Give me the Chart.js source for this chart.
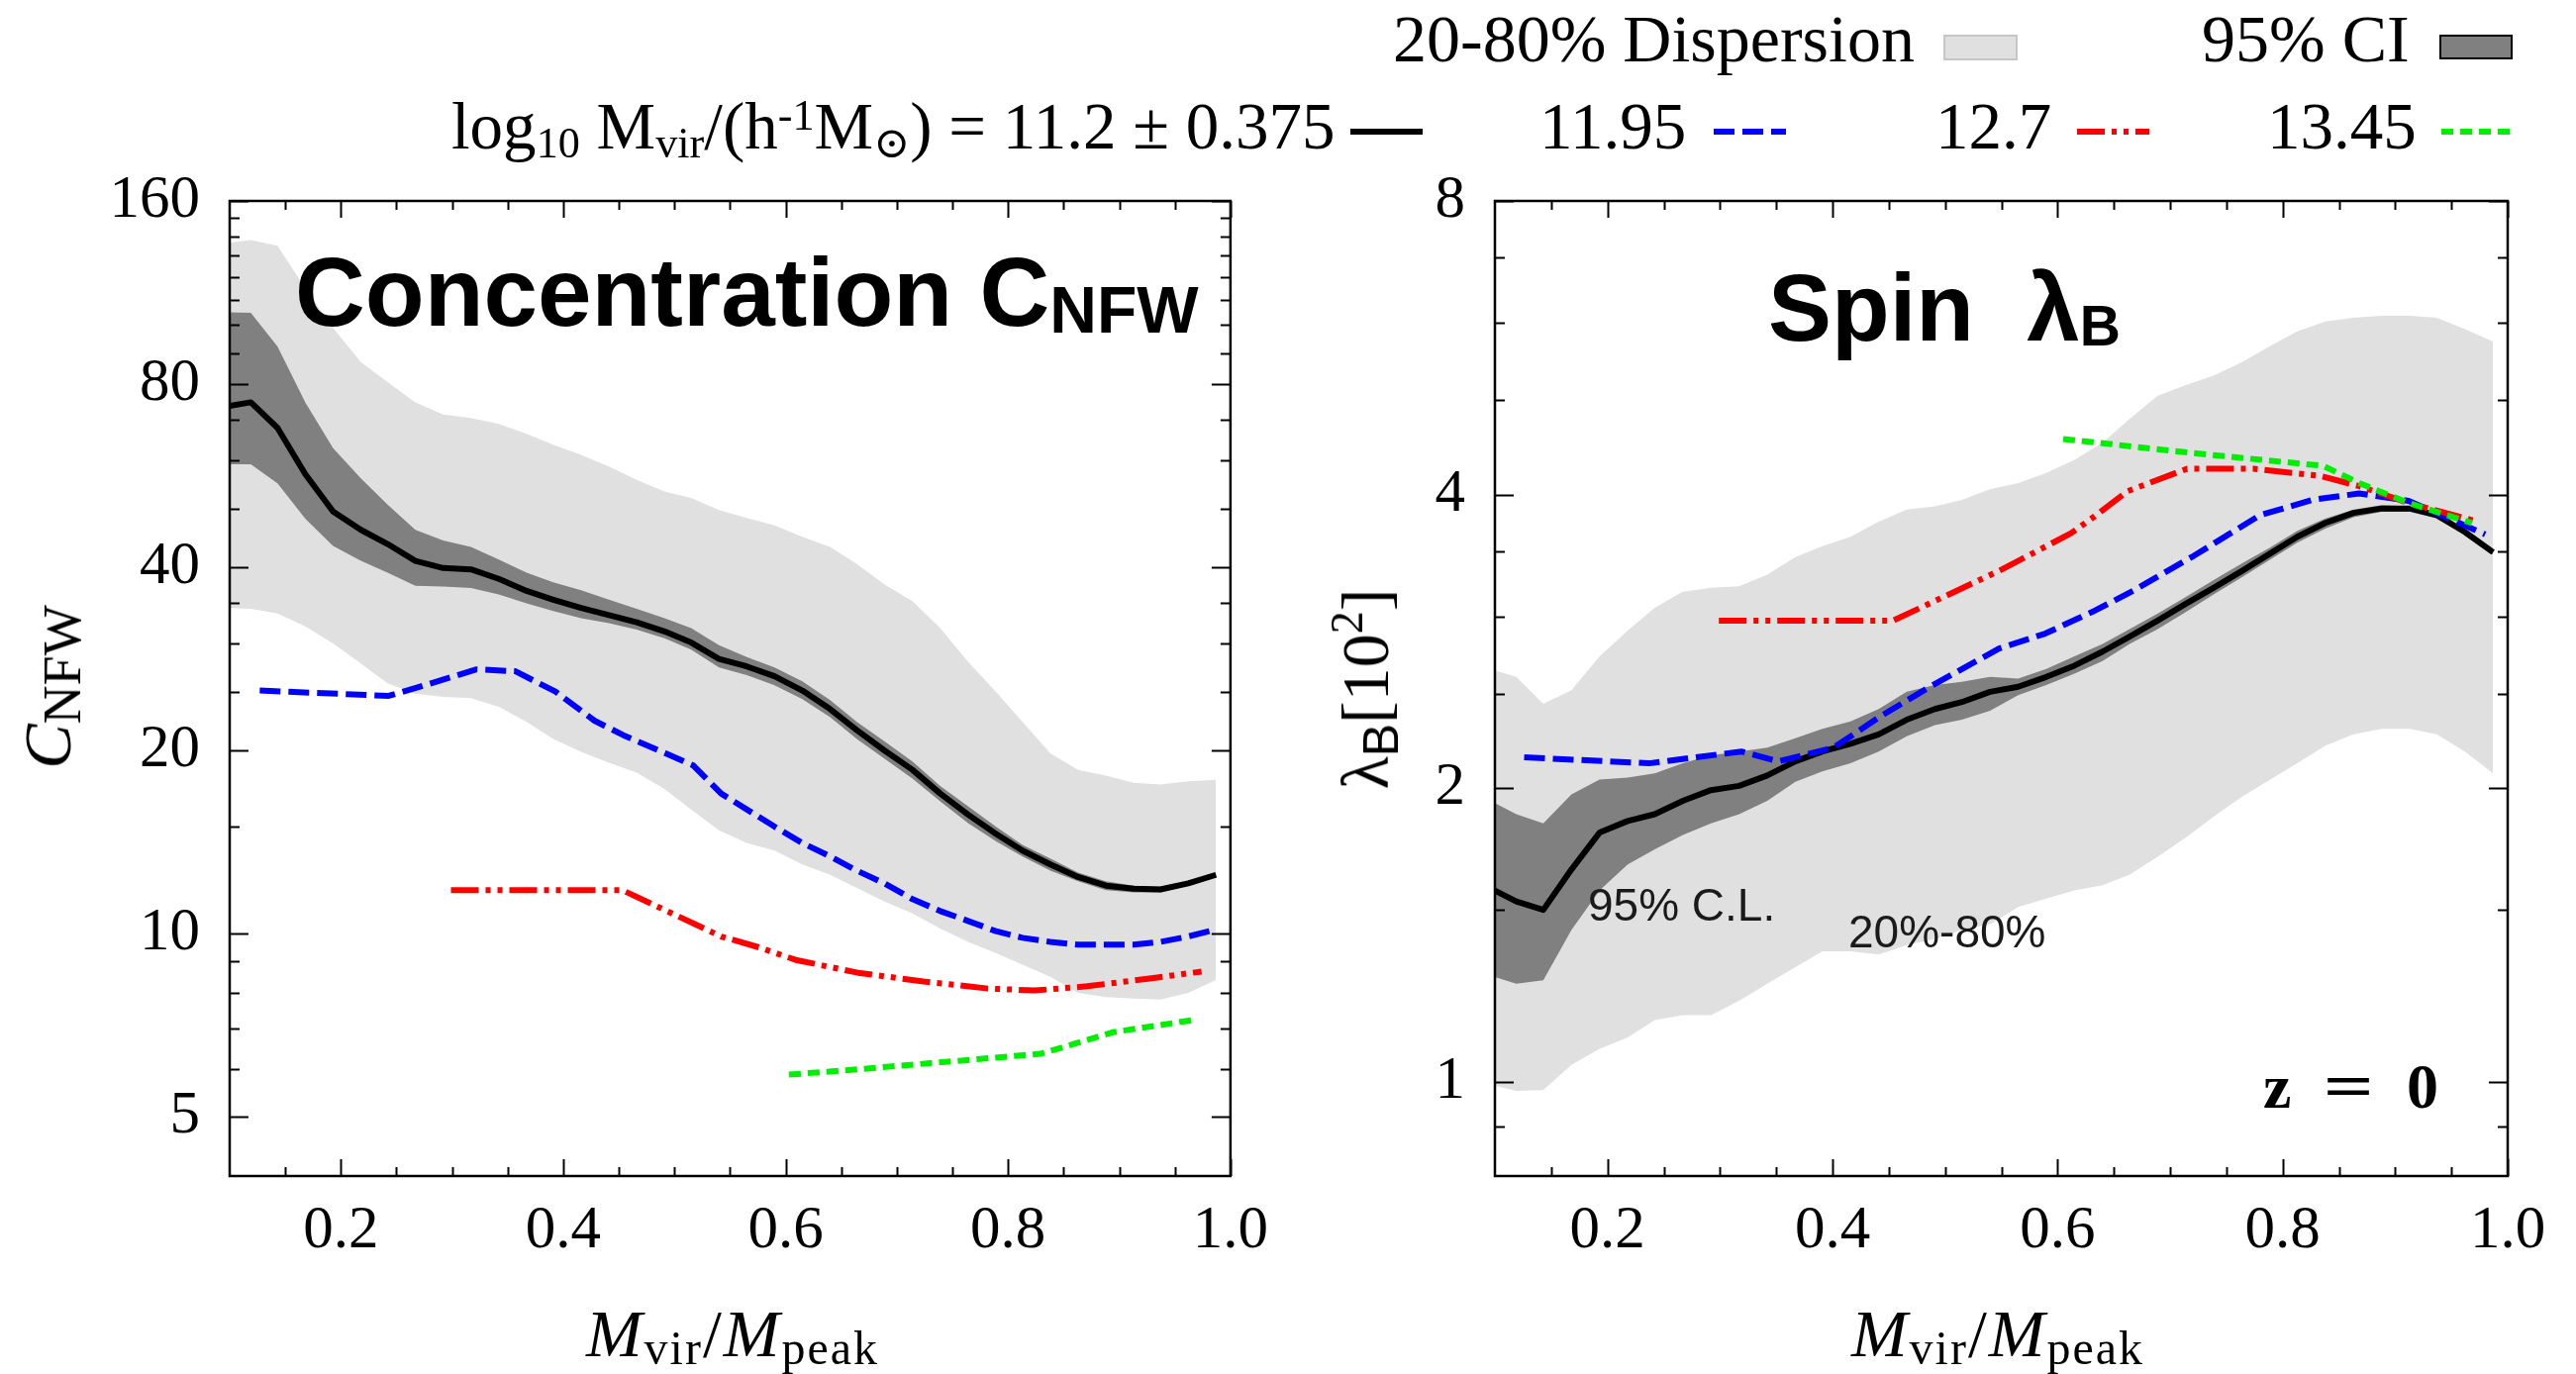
<!DOCTYPE html>
<html>
<head>
<meta charset="utf-8">
<title>Concentration and spin vs Mvir/Mpeak</title>
<script src="https://cdn.jsdelivr.net/npm/chart.js@4.4.1/dist/chart.umd.min.js"></script>
<style>
html, body { margin: 0; padding: 0; background: #fff; }
#wrap { position: relative; width: 2602px; height: 1388px; overflow: hidden; background: #fff; }
canvas { position: absolute; top: 0; }
.t { position: absolute; white-space: nowrap; line-height: 1; color: #000; }
.serif { font-family: "Liberation Serif", "DejaVu Serif", serif; }
.sans { font-family: "Liberation Sans", Arial, sans-serif; }
.sb { font-size: 0.66em; position: relative; top: 0.2em; }
.sp { font-size: 0.66em; position: relative; top: -0.42em; }
.rot { transform: translate(-50%, -50%) rotate(-90deg); }
</style>
</head>
<body>
<div id="wrap">
  <canvas id="concChart" width="1300" height="1388" style="left:0"></canvas>
  <canvas id="spinChart" width="1302" height="1388" style="left:1300px"></canvas>

  <!-- legend, row 1 -->
  <div class="t serif" style="left:1407px;top:5px;font-size:68px">20-80% Dispersion</div>
  <div style="position:absolute;left:1963px;top:35px;width:71px;height:22px;background:#e0e0e0;border:2px solid #c6c6c6"></div>
  <div class="t serif" style="left:2224px;top:5px;font-size:68px">95% CI</div>
  <div style="position:absolute;left:2464px;top:35px;width:70px;height:21px;background:#808080;border:2px solid #000"></div>

  <!-- legend, row 2 -->
  <div class="t serif" style="left:456px;top:94px;font-size:67px">log<span class="sb">10</span> M<span class="sb">vir</span>/(h<span class="sp">-1</span>M<span class="sb">⊙</span>) = 11.2 ± 0.375</div>
  <div class="t serif" style="left:1555px;top:94px;font-size:67px">11.95</div>
  <div class="t serif" style="left:1955px;top:94px;font-size:67px">12.7</div>
  <div class="t serif" style="left:2290px;top:94px;font-size:67px">13.45</div>
  <svg style="position:absolute;left:0;top:0" width="2602" height="200">
    <line x1="1364" y1="133" x2="1437" y2="133" stroke="#000" stroke-width="6"/>
    <line x1="1731" y1="133" x2="1804" y2="133" stroke="#0000ff" stroke-width="6" stroke-dasharray="21 8"/>
    <line x1="2098" y1="133" x2="2171" y2="133" stroke="#ff0000" stroke-width="6" stroke-dasharray="28 7 5 7 5 7"/>
    <line x1="2466" y1="133" x2="2539" y2="133" stroke="#00ee00" stroke-width="6" stroke-dasharray="12 7"/>
  </svg>

  <!-- panel titles -->
  <div class="t sans" style="left:298px;top:246px;font-size:98px;font-weight:bold">Concentration C<span style="font-size:66px;position:relative;top:7px">NFW</span></div>
  <div class="t sans" style="left:1786px;top:263px;font-size:96px;font-weight:bold">Spin&nbsp;&nbsp;λ<span style="font-size:57px;position:relative;top:5px">B</span></div>

  <!-- annotations -->
  <div class="t sans" style="left:1604px;top:891px;font-size:46px;color:#1a1a1a">95% C.L.</div>
  <div class="t sans" style="left:1867px;top:918px;font-size:46px;color:#1a1a1a">20%-80%</div>
  <div class="t serif" style="left:2286px;top:1066px;font-size:64px;font-weight:bold;word-spacing:24px">z <span style="display:inline-block;transform:scaleX(1.4)">=</span> 0</div>

  <!-- axis titles -->
  <div class="t serif" style="left:440px;width:600px;text-align:center;top:1313px;font-size:68px;letter-spacing:2px"><i>M</i><span style="font-size:48px;position:relative;top:8px">vir</span>/<i>M</i><span style="font-size:48px;position:relative;top:8px">peak</span></div>
  <div class="t serif" style="left:1718px;width:600px;text-align:center;top:1313px;font-size:68px;letter-spacing:2px"><i>M</i><span style="font-size:48px;position:relative;top:8px">vir</span>/<i>M</i><span style="font-size:48px;position:relative;top:8px">peak</span></div>
  <div class="t serif rot" style="left:48px;top:694px;font-size:68px"><i>C</i><span style="font-size:54px;position:relative;top:10px">NFW</span></div>
  <div class="t serif rot" style="left:1379px;top:696px;font-size:68px">λ<span class="sans" style="font-size:50px;position:relative;top:10px">B</span>[10<span style="font-size:46px;position:relative;top:-26px">2</span>]</div>
</div>

<script>
// x positions of the binned curves (Mvir/Mpeak)
const xBins = [0.100, 0.119, 0.143, 0.168, 0.193, 0.218, 0.242, 0.267, 0.292, 0.317,
               0.342, 0.367, 0.391, 0.416, 0.441, 0.466, 0.491, 0.515, 0.540, 0.565,
               0.590, 0.615, 0.640, 0.664, 0.689, 0.714, 0.739, 0.764, 0.789, 0.813,
               0.838, 0.863, 0.888, 0.913, 0.937, 0.962, 0.987];

// concentration, lowest mass bin (11.2)
const concHi80 = [136.6, 138, 135, 115, 99, 87, 80.6, 74.7, 71.3, 70.4, 68.8, 66.3, 63.6, 61.2, 58.6, 55.7, 53.3, 52.0, 49.7,
                  48.2, 46.9, 44.9, 43.2, 40.5, 37.5, 35.2, 31.8, 28.0, 25.0, 22.3, 19.8, 18.6, 18.2, 17.7, 17.6, 17.8, 17.9];
const concLo20 = [34.3, 34.2, 33.6, 32.0, 30.0, 27.8, 25.8, 24.8, 24.5, 24.4, 23.6, 22.3, 20.9, 19.9, 19.1, 18.4, 17.3, 16.0, 14.8,
                  14.1, 13.7, 13.0, 12.5, 11.9, 11.3, 10.8, 10.2, 9.7, 9.3, 8.9, 8.5, 8.0, 7.87, 7.83, 7.8, 8.0, 8.4];
const concHi95 = [105, 104.8, 92.3, 74.7, 62.8, 56.0, 50.7, 46.1, 44.3, 43.2, 41.2, 39.2, 37.8, 36.7, 35.4, 34.2, 33.0, 31.8, 29.8,
                  28.5, 27.4, 26.0, 24.2, 22.3, 20.7, 19.2, 17.5, 16.2, 15.0, 14.0, 13.3, 12.6, 12.2, 12.0, 11.95, 12.2, 12.6];
const concLo95 = [59.1, 59.1, 55.0, 48.1, 43.4, 41.0, 39.2, 37.3, 37.2, 37.0, 36.1, 34.9, 33.9, 33.0, 32.4, 31.6, 30.6, 29.3, 27.4,
                  26.6, 25.6, 24.3, 22.7, 20.9, 19.4, 18.0, 16.5, 15.2, 14.2, 13.4, 12.7, 12.2, 11.8, 11.7, 11.7, 12.0, 12.4];
const concMedian = [73.7, 74.7, 67.8, 56.9, 49.4, 46.1, 43.7, 41.0, 39.9, 39.7, 38.3, 36.6, 35.4, 34.3, 33.4, 32.5, 31.4, 30.1, 28.3,
                    27.5, 26.5, 25.1, 23.4, 21.6, 20.0, 18.6, 17.0, 15.7, 14.6, 13.7, 13.0, 12.4, 12.0, 11.86, 11.83, 12.1, 12.5];

// concentration, higher mass bins [x, y]
const concBlue = [[0.127, 25.1], [0.243, 24.6], [0.269, 25.4], [0.322, 27.2], [0.357, 27.0], [0.393, 25.0], [0.428, 22.4],
                  [0.454, 21.2], [0.492, 19.8], [0.517, 18.9], [0.542, 17.0], [0.590, 15.0], [0.615, 14.1], [0.640, 13.4],
                  [0.664, 12.7], [0.689, 12.1], [0.714, 11.4], [0.739, 10.9], [0.764, 10.5], [0.789, 10.1], [0.813, 9.85],
                  [0.838, 9.7], [0.863, 9.6], [0.888, 9.6], [0.913, 9.6], [0.937, 9.7], [0.962, 9.9], [0.981, 10.1]];
const concRed = [[0.299, 11.8], [0.453, 11.8], [0.542, 9.9], [0.576, 9.5], [0.609, 9.06], [0.665, 8.63], [0.724, 8.35],
                 [0.782, 8.13], [0.824, 8.07], [0.871, 8.2], [0.929, 8.45], [0.974, 8.67]];
const concGreen = [[0.603, 5.87], [0.665, 5.99], [0.753, 6.18], [0.829, 6.35], [0.859, 6.59], [0.894, 6.89], [0.965, 7.21]];

// spin (x100), lowest mass bin
const spinHi80 = [2.64, 2.60, 2.44, 2.52, 2.73, 2.90, 3.06, 3.18, 3.21, 3.22, 3.31, 3.45, 3.54, 3.62, 3.75, 3.86, 3.89, 3.95, 4.05,
                  4.11, 4.21, 4.34, 4.52, 4.78, 5.05, 5.18, 5.30, 5.47, 5.68, 5.88, 6.02, 6.07, 6.10, 6.10, 6.07, 5.91, 5.74];
const spinLo20 = [0.99, 0.978, 0.98, 1.04, 1.08, 1.11, 1.156, 1.17, 1.17, 1.21, 1.26, 1.31, 1.36, 1.36, 1.35, 1.38, 1.40, 1.43, 1.45,
                  1.51, 1.54, 1.57, 1.59, 1.63, 1.70, 1.78, 1.87, 1.96, 2.04, 2.12, 2.21, 2.27, 2.30, 2.30, 2.27, 2.18, 2.07];
const spinHi95 = [1.93, 1.88, 1.84, 1.97, 2.04, 2.05, 2.07, 2.12, 2.16, 2.18, 2.20, 2.25, 2.30, 2.34, 2.41, 2.51, 2.55, 2.57, 2.60,
                  2.59, 2.65, 2.73, 2.81, 2.91, 3.02, 3.14, 3.27, 3.40, 3.53, 3.67, 3.78, 3.86, 3.90, 3.89, 3.83, 3.69, 3.52];
const spinLo95 = [1.28, 1.26, 1.27, 1.43, 1.57, 1.67, 1.73, 1.79, 1.84, 1.88, 1.94, 2.03, 2.08, 2.12, 2.18, 2.26, 2.32, 2.35, 2.40,
                  2.49, 2.55, 2.62, 2.70, 2.81, 2.91, 3.03, 3.16, 3.29, 3.43, 3.57, 3.69, 3.79, 3.84, 3.84, 3.78, 3.64, 3.47];
const spinMedian = [1.57, 1.53, 1.50, 1.65, 1.80, 1.85, 1.88, 1.94, 1.99, 2.01, 2.06, 2.13, 2.18, 2.22, 2.27, 2.35, 2.41, 2.45, 2.51,
                    2.54, 2.60, 2.67, 2.76, 2.86, 2.97, 3.09, 3.21, 3.34, 3.48, 3.62, 3.74, 3.83, 3.87, 3.87, 3.81, 3.66, 3.49];

const spinBlue = [[0.126, 2.15], [0.237, 2.12], [0.319, 2.18], [0.352, 2.13], [0.401, 2.20], [0.443, 2.37], [0.489, 2.55],
                  [0.548, 2.78], [0.589, 2.88], [0.633, 3.04], [0.668, 3.19], [0.721, 3.46], [0.780, 3.81], [0.827, 3.95],
                  [0.868, 4.01], [0.912, 3.94], [0.980, 3.64]];
const spinRed = [[0.299, 2.97], [0.454, 2.97], [0.548, 3.34], [0.612, 3.65], [0.633, 3.80], [0.662, 4.03], [0.715, 4.25],
                 [0.774, 4.25], [0.833, 4.18], [0.868, 4.08], [0.912, 3.92], [0.974, 3.75]];
const spinGreen = [[0.605, 4.56], [0.721, 4.41], [0.836, 4.28], [0.868, 4.11], [0.912, 3.92], [0.968, 3.74]];

// ticks
const xTicks = [0.2, 0.4, 0.6, 0.8, 1.0];
const xMinorTicks = [0.15, 0.25, 0.3, 0.35, 0.45, 0.5, 0.55, 0.65, 0.7, 0.75, 0.85, 0.9, 0.95];
const concTicks = [5, 10, 20, 40, 80, 160];
const concMinorTicks = [6, 7, 8, 9, 15, 25, 30, 35, 50, 60, 70, 90, 100, 110, 120, 130, 140, 150];
const spinTicks = [1, 2, 4, 8];
const spinMinorTicks = [0.9, 1.5, 2.5, 3, 3.5, 5, 6, 7];

const serifFont = '"Liberation Serif", "DejaVu Serif", serif';

function zip(ys) {
    return xBins.map((x, i) => ({ x: x, y: ys[i] }));
}
function pairs(arr) {
    return arr.map(p => ({ x: p[0], y: p[1] }));
}

// inward tick marks on all four sides plus the frame, gnuplot style
const frameTicks = {
    id: 'frameTicks',
    afterDraw(chart, args, opts) {
        const ctx = chart.ctx;
        const a = chart.chartArea;
        const xs = chart.scales.x, ys = chart.scales.y;
        ctx.save();
        ctx.strokeStyle = '#000';
        ctx.lineWidth = 2;
        ctx.beginPath();
        function xTick(v, len) {
            const px = Math.round(xs.getPixelForValue(v)) + 0.5;
            ctx.moveTo(px, a.bottom); ctx.lineTo(px, a.bottom - len);
            ctx.moveTo(px, a.top); ctx.lineTo(px, a.top + len);
        }
        function yTick(v, len) {
            const py = Math.round(ys.getPixelForValue(v)) + 0.5;
            ctx.moveTo(a.left, py); ctx.lineTo(a.left + len, py);
            ctx.moveTo(a.right, py); ctx.lineTo(a.right - len, py);
        }
        xTicks.forEach(v => xTick(v, 17));
        xMinorTicks.forEach(v => xTick(v, 9));
        opts.yMajor.forEach(v => yTick(v, 19));
        opts.yMinor.forEach(v => yTick(v, 10));
        ctx.stroke();
        ctx.lineWidth = 2.5;
        ctx.strokeRect(a.left, a.top, a.right - a.left, a.bottom - a.top);
        ctx.restore();
    }
};

function band(data, color, order, fill) {
    return {
        data: data, fill: fill, backgroundColor: color, borderColor: 'rgba(0,0,0,0)',
        borderWidth: 0, pointRadius: 0, order: order
    };
}
function curve(data, color, dash, order) {
    return {
        data: data, fill: false, borderColor: color, borderWidth: 6, borderDash: dash,
        borderJoinStyle: 'round', pointRadius: 0, tension: 0, order: order
    };
}

function makePanel(canvasId, p) {
    return new Chart(document.getElementById(canvasId), {
        type: 'line',
        data: {
            datasets: [
                curve(pairs(p.green), '#00ee00', [12, 7], 0),
                curve(pairs(p.red), '#ff0000', [28, 7, 5, 7, 5, 7], 1),
                curve(pairs(p.blue), '#0000ff', [21, 8], 2),
                curve(zip(p.median), '#000000', [], 3),
                band(zip(p.hi95), '#808080', 5, '+1'),
                band(zip(p.lo95), '#808080', 6, false),
                band(zip(p.hi80), '#e0e0e0', 8, '+1'),
                band(zip(p.lo80), '#e0e0e0', 9, false)
            ]
        },
        options: {
            responsive: false,
            animation: false,
            devicePixelRatio: 1,
            layout: { padding: { left: 0, top: 203, right: p.padRight, bottom: 0 } },
            plugins: {
                legend: { display: false },
                tooltip: { enabled: false },
                frameTicks: { yMajor: p.yTicks, yMinor: p.yMinor }
            },
            scales: {
                x: {
                    type: 'linear', min: 0.1, max: 1.0,
                    grid: { display: false, drawTicks: false },
                    border: { display: false },
                    ticks: {
                        font: { family: serifFont, size: 61 }, color: '#000', padding: 19,
                        autoSkip: false, maxRotation: 0,
                        callback: v => v.toFixed(1)
                    },
                    afterBuildTicks: s => { s.ticks = xTicks.map(v => ({ value: v })); },
                    afterFit: s => { s.height = 200; }
                },
                y: {
                    type: 'logarithmic', min: p.yMin, max: p.yMax,
                    grid: { display: false, drawTicks: false },
                    border: { display: false },
                    ticks: {
                        font: { family: serifFont, size: 61 }, color: '#000', padding: 30,
                        autoSkip: false,
                        callback: v => String(v)
                    },
                    afterBuildTicks: s => { s.ticks = p.yTicks.map(v => ({ value: v })); },
                    afterFit: s => { s.width = p.yWidth; }
                }
            }
        },
        plugins: [frameTicks]
    });
}

makePanel('concChart', {
    hi80: concHi80, lo80: concLo20, hi95: concHi95, lo95: concLo95, median: concMedian,
    blue: concBlue, red: concRed, green: concGreen,
    yMin: 4, yMax: 160, yTicks: concTicks, yMinor: concMinorTicks,
    yWidth: 232, padRight: 46
});

makePanel('spinChart', {
    hi80: spinHi80, lo80: spinLo20, hi95: spinHi95, lo95: spinLo95, median: spinMedian,
    blue: spinBlue, red: spinRed, green: spinGreen,
    yMin: 0.8, yMax: 8, yTicks: spinTicks, yMinor: spinMinorTicks,
    yWidth: 210, padRight: 69
});
</script>
</body>
</html>
